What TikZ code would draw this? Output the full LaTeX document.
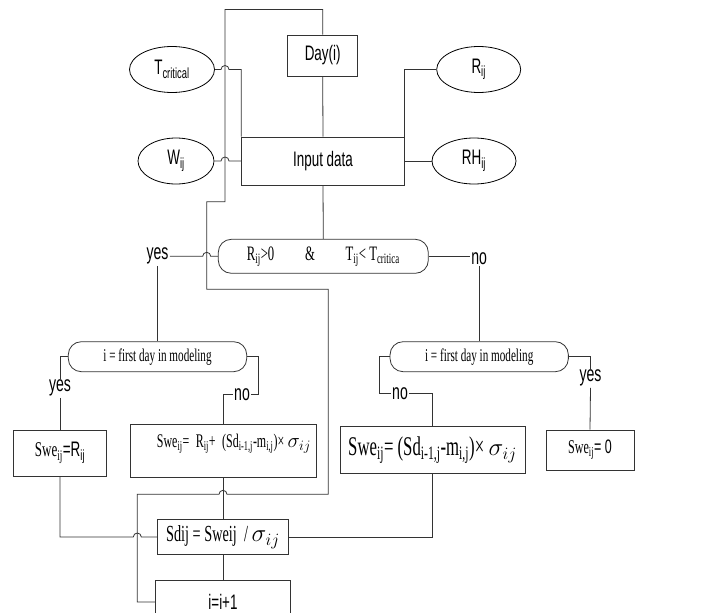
\documentclass[tikz,border=0pt]{standalone}
\usepackage{fontspec}
\setmainfont{Liberation Serif}[FakeStretch=0.62]
\setsansfont{Liberation Sans}[FakeStretch=0.64]
\usetikzlibrary{shapes.geometric}
\begin{document}
\begin{tikzpicture}[x=1pt,y=1pt,line width=0.8pt,draw=black!80,
    ell/.style={draw=black,ellipse,minimum width=85,minimum height=46,inner sep=0pt,font=\sffamily\fontsize{21}{23}\selectfont},
    blk/.style={draw=black!80,inner sep=0pt},
    dec/.style={draw=black!80,rounded corners=13pt,inner sep=0pt,font=\fontsize{18}{20}\selectfont},
    lbl/.style={inner sep=1pt,font=\sffamily\fontsize{22}{24}\selectfont},
    sans/.style={font=\sffamily\fontsize{21}{23}\selectfont}]
    \useasboundingbox (0,0) rectangle (702,-613);
    % input part
    \node[blk,sans,minimum width=70,minimum height=41] (day) at (322.7,-55.5) {Day(i)};
    \node[blk,sans,minimum width=162.6,minimum height=48] (input) at (323,-161) {Input data};
    \node[ell] (tcrit) at (172,-69.5) {T\textsubscript{critical}};
    \node[ell,minimum width=76] (wij) at (176,-161) {W\textsubscript{ij}};
    \node[ell,minimum width=84] (rij) at (478.7,-69.5) {R\textsubscript{ij}};
    \node[ell,minimum width=84] (rhij) at (474,-161) {RH\textsubscript{ij}};
    \draw (day.south) -- (input.north);
    \draw (tcrit.east) -- (221,-69.5) arc[start angle=180,end angle=0,radius=4] -| (input.north west);
    \draw (wij.east) -- (221,-161) arc[start angle=180,end angle=0,radius=4] -- (input.west);
    \draw (rij.west) -| (input.north east);
    \draw (input.east) -- (rhij.west);
    % conditions
    \node[dec,font=\fontsize{20.5}{22}\selectfont,minimum width=210,minimum height=34] (cond) at (323.3,-256.3)
        {R\textsubscript{ij}>0\hspace{1.5em}\&\hspace{1.5em}T\textsubscript{ij}< T\textsubscript{critica}};
    \node[lbl] (yes1) at (157.5,-256.3) {yes};
    \node[lbl] (no1) at (479.2,-258.5) {no};
    \node[dec,minimum width=178.4,minimum height=30] (condL) at (157.5,-356.7) {i = first day in modeling};
    \node[dec,minimum width=178.3,minimum height=30] (condR) at (479.2,-356.7) {i = first day in modeling};
    \node[lbl] (yes2) at (60,-388.3) {yes};
    \node[lbl] (no2) at (242,-394.3) {no};
    \node[lbl] (no3) at (400,-393.5) {no};
    \node[lbl] (yes3) at (590.5,-378.3) {yes};
    \draw (input.south) -- (cond.north);
    \draw (cond.west) -- (210.7,-256.3) arc[start angle=0,end angle=180,radius=4] -- (yes1.east);
    \draw (cond.east) -- (cond.east -| no1.west);
    \draw (yes1.south) -- (condL.north);
    \draw (no1.south) -- (condR.north);
    \draw (condL.west) -| (yes2.north);
    \draw (condL.east) -- ++(11,0) |- (no2.east);
    \draw (condR.west) -- ++(-10.7,0) |- (no3.west);
    \draw (condR.east) -| (yes3.north);
    % Swe boxes
    \node[blk,font=\fontsize{21}{23}\selectfont,minimum width=93.4,minimum height=46] (s1) at (60,-453)
        {Swe\textsubscript{ij}{\sffamily =R\textsubscript{ij}}};
    \node[blk,font=\fontsize{19.3}{21}\selectfont,text width=176,align=right,inner xsep=5,inner ysep=4,
        text height=19,text depth=26] (s2) at (223,-450.5)
        {Swe\textsubscript{ij}= R\textsubscript{ij}+ (Sd\textsubscript{i-1,j}-m\textsubscript{i,j})\texttimes\,$\sigma_{ij}$};
    \node[blk,font=\fontsize{27}{29}\selectfont,minimum width=185,minimum height=46.6] (s3) at (432.5,-450)
        {Swe\textsubscript{ij}= (Sd\textsubscript{i-1,j}-m\textsubscript{i,j})\texttimes\,$\sigma_{ij}$};
    \node[blk,font=\fontsize{19.5}{21}\selectfont,minimum width=88,minimum height=40] (s4) at (590,-450)
        {Swe\textsubscript{ij}{\sffamily = 0}};
    \draw (yes2.south) -- (s1.north);
    \draw (no2.west) -| (s2.north);
    \draw (no3.east) -| (s3.north);
    \draw (yes3.south) -- (s4.north);
    % update
    \node[blk,font=\fontsize{23}{25}\selectfont,minimum width=130.6,minimum height=34.3] (sd) at (223,-537)
        {Sdij = Sweij\, / $\sigma_{ij}$};
    \node[blk,sans,minimum width=135.7,minimum height=44] (inc) at (223,-602) {i=i+1};
    \draw (s1.south) -- (60,-537) -- (133.3,-537) arc[start angle=180,end angle=0,radius=4] -- (sd.west);
    \draw (s3.south) |- (sd.east);
    \draw (s2.south) -- (sd.north);
    \draw (sd.south) -- (inc.north);
    % loop back to the next day
    \draw (inc.west) -| (137.3,-494.3) -- (219,-494.3) arc[start angle=180,end angle=0,radius=4]
        -- (328.3,-494.3) -- (328.3,-289.3) -- (206.7,-289.3) -- (206.7,-201.7) -- (225,-201.7)
        -- (225,-9.5) -| (day.north);
\end{tikzpicture}
\end{document}
